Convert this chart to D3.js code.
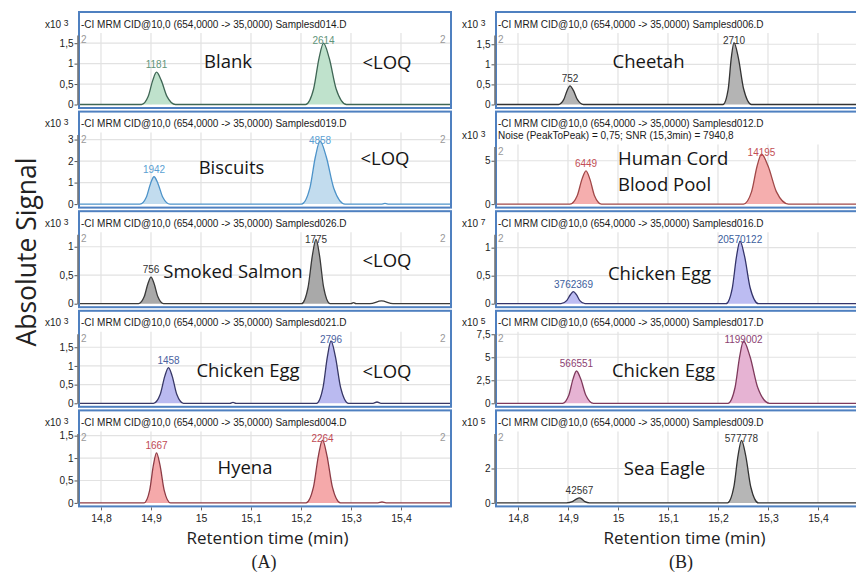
<!DOCTYPE html>
<html>
<head>
<meta charset="utf-8">
<script src="https://cdn.jsdelivr.net/npm/d3@7/dist/d3.min.js"></script>
<style>
  body { margin: 0; background: #fff; }
  svg { display: block; }
</style>
</head>
<body>
<svg id="chart" width="856" height="574"></svg>
<script>
// ---------- data ----------
// retention time axis (min)
const timeDomain = [14.756, 15.5];
const timeTicks = [14.8, 14.9, 15.0, 15.1, 15.2, 15.3, 15.4];

const titleLine = "-CI MRM CID@10,0 (654,0000 -> 35,0000) ";

// column A
const namesA = ["Blank", "Biscuits", "Smoked Salmon", "Chicken Egg", "Hyena"];
const filesA = ["Samplesd014.D", "Samplesd019.D", "Samplesd026.D", "Samplesd021.D", "Samplesd004.D"];
const loqA = [true, true, true, true, false];
const exponentA = [3, 3, 3, 3, 3];
const yMaxA = [1.70, 3.23, 1.22, 1.86, 1.55];
const yTicksA = [[0, 0.5, 1, 1.5], [0, 1, 2, 3], [0, 0.5, 1], [0, 0.5, 1, 1.5], [0, 0.5, 1, 1.5]];
const peakLabelsA = [["1181", "2614"], ["1942", "4858"], ["756", "1775"], ["1458", "2796"], ["1667", "2264"]];
// each peak: [retention time, signal] points
const peaksA = [
  [[[14.881,0],[14.8945,0.2],[14.9035,0.59],[14.911,0.79],[14.9205,0.59],[14.9319,0.2],[14.949,0]],
   [[15.209,0],[15.2252,0.38],[15.236,1.13],[15.245,1.5],[15.2565,1.13],[15.2703,0.38],[15.291,0]]],
  [[[14.878,0],[14.8906,0.32],[14.899,0.95],[14.906,1.27],[14.914,0.95],[14.9236,0.32],[14.938,0]],
   [[15.201,0],[15.2177,0.74],[15.2288,2.2],[15.238,2.94],[15.2505,2.2],[15.2655,0.74],[15.288,0]]],
  [[[14.875,0],[14.8863,0.12],[14.8938,0.35],[14.900,0.467],[14.9063,0.35],[14.9138,0.12],[14.925,0]],
   [[15.201,0],[15.214,0.28],[15.2228,0.85],[15.230,1.128],[15.237,0.85],[15.2454,0.28],[15.258,0]]],
  [[[14.905,0],[14.9185,0.24],[14.9275,0.72],[14.935,0.955],[14.9425,0.72],[14.9515,0.24],[14.965,0]],
   [[15.231,0],[15.244,0.42],[15.2528,1.25],[15.260,1.67],[15.2688,1.25],[15.2793,0.42],[15.295,0]]],
  [[[14.886,0],[14.8973,0.28],[14.9048,0.84],[14.911,1.116],[14.918,0.84],[14.9264,0.28],[14.939,0]],
   [[15.210,0],[15.2249,0.35],[15.2348,1.05],[15.243,1.40],[15.252,1.05],[15.2628,0.35],[15.279,0]]]
];
// minor baseline bumps
const bumpsA = [
  [],
  [[[15.360,0],[15.368,0.03],[15.376,0]]],
  [[[15.300,0],[15.305,0.02],[15.310,0]], [[15.338,0],[15.361,0.05],[15.384,0]]],
  [[[15.058,0],[15.064,0.025],[15.070,0]], [[15.344,0],[15.352,0.035],[15.360,0]]],
  [[[15.354,0],[15.362,0.02],[15.370,0]]]
];

// column B
const namesB = ["Cheetah", "Human Cord\nBlood Pool", "Chicken Egg", "Chicken Egg", "Sea Eagle"];
const filesB = ["Samplesd006.D", "Samplesd012.D", "Samplesd016.D", "Samplesd017.D", "Samplesd009.D"];
const noteB = ["", "Noise (PeakToPeak) = 0,75; SNR (15,3min) = 7940,8", "", "", ""];
const exponentB = [3, 3, 7, 5, 5];
const yMaxB = [1.73, 6.63, 1.24, 7.55, 4.04];
const yTicksB = [[0, 0.5, 1, 1.5], [0, 5], [0, 0.5, 1], [0, 2.5, 5, 7.5], [0, 2]];
const peakLabelsB = [["752", "2710"], ["6449", "14195"], ["3762369", "20570122"], ["566551", "1199002"], ["42567", "577778"]];
const peaksB = [
  [[[14.881,0],[14.8914,0.12],[14.8983,0.35],[14.904,0.463],[14.9108,0.35],[14.9189,0.12],[14.931,0]],
   [[15.210,0],[15.2204,0.385],[15.2265,1.155],[15.232,1.54],[15.2408,1.155],[15.2513,0.385],[15.267,0]]],
  [[[14.904,0],[14.9184,0.96],[14.928,2.88],[14.936,3.84],[14.9438,2.88],[14.953,0.96],[14.967,0]],
   [[15.251,0],[15.2672,1.44],[15.278,4.33],[15.287,5.77],[15.3005,4.33],[15.3167,1.44],[15.341,0]]],
  [[[14.886,0],[14.8973,0.054],[14.9048,0.16],[14.911,0.214],[14.9168,0.16],[14.9237,0.054],[14.934,0]],
   [[15.216,0],[15.2286,0.28],[15.237,0.84],[15.244,1.118],[15.2533,0.84],[15.2644,0.28],[15.281,0]]],
  [[[14.889,0],[14.9016,0.88],[14.910,2.63],[14.917,3.51],[14.9255,2.63],[14.9357,0.88],[14.951,0]],
   [[15.220,0],[15.234,1.69],[15.2433,5.08],[15.251,6.77],[15.264,5.08],[15.2796,1.69],[15.303,0]]],
  [[[14.897,0],[14.9087,0.07],[14.9165,0.22],[14.923,0.29],[14.928,0.22],[14.934,0.07],[14.943,0]],
   [[15.219,0],[15.2316,0.91],[15.240,2.73],[15.247,3.64],[15.2555,2.73],[15.2657,0.91],[15.281,0]]]
];
const bumpsB = [[], [], [], [], []];

// ---------- styling / layout ----------
const colorsA = [
  { fill: "#bfe2cc", line: "#3f6655", label: "#5f947a" },
  { fill: "#c2dcee", line: "#4d93c9", label: "#5b9fd3" },
  { fill: "#a9a9a9", line: "#3a3a3a", label: "#333333" },
  { fill: "#babaf0", line: "#383866", label: "#4a62a0" },
  { fill: "#f5a9aa", line: "#8d3c46", label: "#c04a55" }
];
const colorsB = [
  { fill: "#b4b4b4", line: "#333333", label: "#333333" },
  { fill: "#f5aeae", line: "#a04848", label: "#c24e55" },
  { fill: "#bcbcf2", line: "#34346a", label: "#3c5e9c" },
  { fill: "#e6b3d3", line: "#7e3a5c", label: "#8c4272" },
  { fill: "#b6b6b6", line: "#333333", label: "#333333" }
];
// annotation anchors in data coordinates [time, signal]
const namePosA = [[15.054, 1.06], [15.061, 1.72], [15.064, 0.57], [15.094, 0.89], [15.088, 0.78]];
const loqPosA = [[15.372, 1.03], [15.368, 2.14], [15.372, 0.75], [15.372, 0.86], null];
const namePosB = [[15.061, 1.06], [15.0, 5.27], [15.083, 0.536], [15.091, 3.59], [15.093, 1.99]];

const columns = [
  { x0: 79, names: namesA, files: filesA, notes: ["", "", "", "", ""], exps: exponentA, yMax: yMaxA,
    ticks: yTicksA, plabels: peakLabelsA, peaks: peaksA, bumps: bumpsA, colors: colorsA,
    namePos: namePosA, loq: loqA, loqPos: loqPosA, rightTwo: true, caption: "(A)" },
  { x0: 496, names: namesB, files: filesB, notes: noteB, exps: exponentB, yMax: yMaxB,
    ticks: yTicksB, plabels: peakLabelsB, peaks: peaksB, bumps: bumpsB, colors: colorsB,
    namePos: namePosB, loq: [false, false, false, false, false], loqPos: [], rightTwo: false, caption: "(B)" }
];

const plotWidth = 372;
const panelTop0 = 12, panelPitch = 99.6, panelHeight = 96;
const frameColor = "#4f80c0";
const sansUI = "'Liberation Sans', Arial, sans-serif";
const sansBig = "'Open Sans', 'Noto Sans', sans-serif";

const locale = d3.formatLocale({ decimal: ",", thousands: ".", grouping: [3], currency: ["", ""] });
const fmt = locale.format("~g");

const svg = d3.select("#chart");
const defs = svg.append("defs");

columns.forEach((col, ci) => {
  const x = d3.scaleLinear().domain(timeDomain).range([col.x0, col.x0 + plotWidth]);
  const x1 = col.x0 + plotWidth;

  col.names.forEach((name, i) => {
    const top = panelTop0 + i * panelPitch;
    const bottom = top + panelHeight;
    const twoLine = col.notes[i] !== "";
    const plotTop = top + (twoLine ? 35 : 23);
    const y = d3.scaleLinear().domain([0, col.yMax[i]]).range([bottom - 3.5, plotTop]);
    const c = col.colors[i];
    const g = svg.append("g");

    const clipId = `clip-${ci}-${i}`;
    defs.append("clipPath").attr("id", clipId)
      .append("rect").attr("x", col.x0).attr("y", top).attr("width", plotWidth).attr("height", panelHeight);
    const inner = g.append("g").attr("clip-path", `url(#${clipId})`);

    // grid
    inner.selectAll("line.vg").data(timeTicks).join("line")
      .attr("x1", d => x(d)).attr("x2", d => x(d))
      .attr("y1", plotTop - 2).attr("y2", bottom - 3.5)
      .attr("stroke", "#e2e2e2").attr("stroke-width", 1.2);
    inner.selectAll("line.hg").data(col.ticks[i].filter(v => v > 0)).join("line")
      .attr("x1", col.x0).attr("x2", x1)
      .attr("y1", d => y(d)).attr("y2", d => y(d))
      .attr("stroke", "#e2e2e2").attr("stroke-width", 1.2);

    // chromatogram trace
    const trace = [[timeDomain[0], 0]];
    const segs = col.peaks[i].concat(col.bumps[i]).sort((a, b) => a[0][0] - b[0][0]);
    segs.forEach(s => s.forEach(p => trace.push(p)));
    trace.push([timeDomain[1], 0]);

    const area = d3.area().x(d => x(d[0])).y0(y(0)).y1(d => y(d[1])).curve(d3.curveMonotoneX);
    const line = d3.line().x(d => x(d[0])).y(d => y(d[1])).curve(d3.curveMonotoneX);
    col.peaks[i].forEach(p => {
      inner.append("path").attr("d", area(p)).attr("fill", c.fill);
    });
    inner.append("path").attr("d", line(trace))
      .attr("fill", "none").attr("stroke", c.line).attr("stroke-width", 1.3);

    // peak labels
    col.peaks[i].forEach((p, k) => {
      const apex = p.reduce((a, b) => (b[1] > a[1] ? b : a));
      const ly = Math.max(y(apex[1]) - 4, plotTop + 9);
      inner.append("text")
        .attr("x", x(apex[0])).attr("y", ly)
        .attr("text-anchor", "middle")
        .attr("font-family", sansUI).attr("font-size", 10)
        .attr("fill", c.label)
        .text(col.plabels[i][k]);
    });

    // small "2" markers
    inner.append("text").attr("x", col.x0 + 2).attr("y", plotTop + 8)
      .attr("font-family", sansUI).attr("font-size", 10).attr("fill", "#999").text("2");
    if (col.rightTwo) {
      inner.append("text").attr("x", x1 - 11).attr("y", plotTop + 8)
        .attr("font-family", sansUI).attr("font-size", 10).attr("fill", "#999").text("2");
    }

    // sample name
    const np = col.namePos[i];
    const lines = name.split("\n");
    const nameText = g.append("text")
      .attr("font-family", sansBig).attr("font-size", 18.5).attr("fill", "#151515");
    if (lines.length === 1) {
      nameText.attr("x", x(np[0])).attr("y", y(np[1])).attr("dy", "0.35em")
        .attr("text-anchor", "middle").text(name);
    } else {
      lines.forEach((ln, k) => {
        nameText.append("tspan").attr("x", x(np[0])).attr("y", y(np[1]) + k * 25.7)
          .attr("dy", "0.35em").text(ln);
      });
    }
    if (col.loq[i]) {
      const lp = col.loqPos[i];
      g.append("text").attr("x", x(lp[0])).attr("y", y(lp[1])).attr("dy", "0.35em")
        .attr("text-anchor", "middle")
        .attr("font-family", sansBig).attr("font-size", 18.5).attr("fill", "#151515")
        .text("<LOQ");
    }

    // titles
    g.append("text").attr("x", col.x0 + 2).attr("y", top + 15.5)
      .attr("font-family", sansUI).attr("font-size", 10).attr("fill", "#1a1a1a")
      .text(titleLine + col.files[i]);
    if (twoLine) {
      g.append("text").attr("x", col.x0 + 2).attr("y", top + 27.5)
        .attr("font-family", sansUI).attr("font-size", 10).attr("fill", "#1a1a1a")
        .text(col.notes[i]);
    }

    // frame
    g.append("rect").attr("x", col.x0).attr("y", top)
      .attr("width", plotWidth).attr("height", panelHeight)
      .attr("fill", "none").attr("stroke", frameColor).attr("stroke-width", 2);

    // y axis
    const ax = g.append("g").attr("transform", `translate(${col.x0 - 1.5},0)`)
      .call(d3.axisLeft(y).tickValues(col.ticks[i]).tickFormat(fmt).tickSize(3).tickSizeOuter(0).tickPadding(1));
    ax.select(".domain").attr("stroke", "#777").attr("stroke-width", 1.6);
    ax.selectAll(".tick line").attr("stroke", "#555");
    ax.selectAll(".tick text").attr("font-family", sansUI).attr("font-size", 10).attr("fill", "#222");

    // exponent
    const ey = twoLine ? top + 27.5 : top + 15.5;
    const ex = g.append("text").attr("x", col.x0 - 34).attr("y", ey)
      .attr("font-family", sansUI).attr("font-size", 10).attr("fill", "#222");
    ex.append("tspan").text("x10");
    ex.append("tspan").attr("dx", 2.5).attr("dy", -2).attr("font-size", 8.5).text(col.exps[i]);

    // x axis under the last panel
    if (i === col.names.length - 1) {
      const xa = g.append("g").attr("transform", `translate(0,${bottom + 1})`)
        .call(d3.axisBottom(x).tickValues(timeTicks).tickFormat(fmt).tickSize(3).tickSizeOuter(0).tickPadding(4));
      xa.select(".domain").remove();
      xa.selectAll(".tick line").attr("stroke", "#666");
      xa.selectAll(".tick text").attr("font-family", sansUI).attr("font-size", 10.5).attr("fill", "#222");

      g.append("text").attr("x", x(15.133)).attr("y", bottom + 38)
        .attr("text-anchor", "middle").attr("font-family", sansBig).attr("font-size", 17)
        .attr("fill", "#222").text("Retention time (min)");
      g.append("text").attr("x", x(15.126)).attr("y", bottom + 62)
        .attr("text-anchor", "middle").attr("font-family", "'Liberation Serif', 'DejaVu Serif', serif")
        .attr("font-size", 18).attr("fill", "#222").text(col.caption);
    }
  });
});

// shared y-axis title
svg.append("text")
  .attr("transform", "translate(36,252) rotate(-90)")
  .attr("text-anchor", "middle")
  .attr("font-family", sansBig).attr("font-size", 26.5).attr("fill", "#222")
  .text("Absolute Signal");
</script>
</body>
</html>
